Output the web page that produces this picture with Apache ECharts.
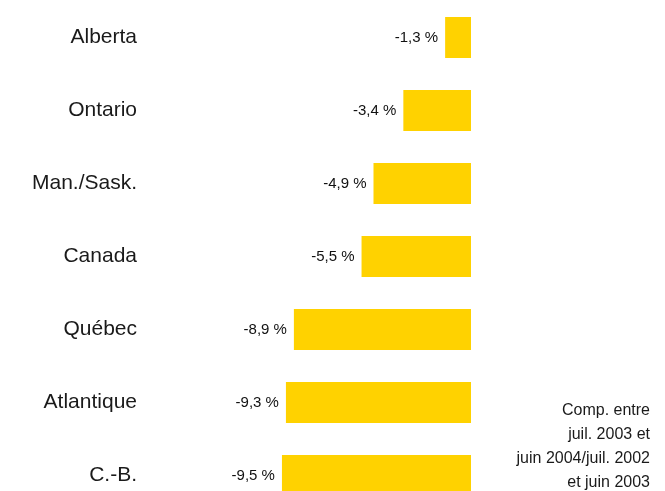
<!DOCTYPE html>
<html>
<head>
<meta charset="utf-8">
<script src="https://cdn.jsdelivr.net/npm/echarts@6/dist/echarts.min.js"></script>
<style>
  html, body { margin: 0; padding: 0; background: #fff; }
  #main { width: 665px; height: 491px; }
</style>
</head>
<body>
<div id="main"></div>
<script>
var regions = ['Alberta', 'Ontario', 'Man./Sask.', 'Canada', 'Québec', 'Atlantique', 'C.-B.'];
var changes = [-1.3, -3.4, -4.9, -5.5, -8.9, -9.3, -9.5];
var noteLines = ['Comp. entre', 'juil. 2003 et', 'juin 2004/juil. 2002', 'et juin 2003'];

var myChart = echarts.init(document.getElementById('main'));

var font = 'Liberation Sans, Arial, sans-serif';

// note en bas à droite, une ligne par élément pour l'aligner à droite
var note = noteLines.map(function (line, i) {
    return {
        type: 'text',
        x: 650,
        y: 411 + i * 24,
        style: {
            text: line,
            align: 'right',
            verticalAlign: 'middle',
            fontFamily: font,
            fontSize: 16,
            fill: '#1a1a1a'
        }
    };
});

var option = {
    animation: false,
    backgroundColor: '#fff',
    grid: {
        left: 272,
        right: 194,
        top: 1,
        height: 511,
        outerBoundsMode: 'none'
    },
    xAxis: {
        type: 'value',
        min: -10,
        max: 0,
        show: false
    },
    yAxis: {
        type: 'category',
        inverse: true,
        data: regions,
        axisLine: { show: false },
        axisTick: { show: false },
        splitLine: { show: false },
        axisLabel: {
            margin: 135,
            fontFamily: font,
            fontSize: 21,
            color: '#1a1a1a'
        }
    },
    series: [
        {
            type: 'bar',
            barWidth: 41,
            itemStyle: { color: '#FFD200' },
            label: {
                show: true,
                position: 'left',
                distance: 7,
                fontFamily: font,
                fontSize: 15,
                color: '#111',
                formatter: function (p) {
                    return p.value.toFixed(1).replace('.', ',') + ' %';
                }
            },
            data: changes
        }
    ],
    graphic: note
};
myChart.setOption(option);
</script>
</body>
</html>
